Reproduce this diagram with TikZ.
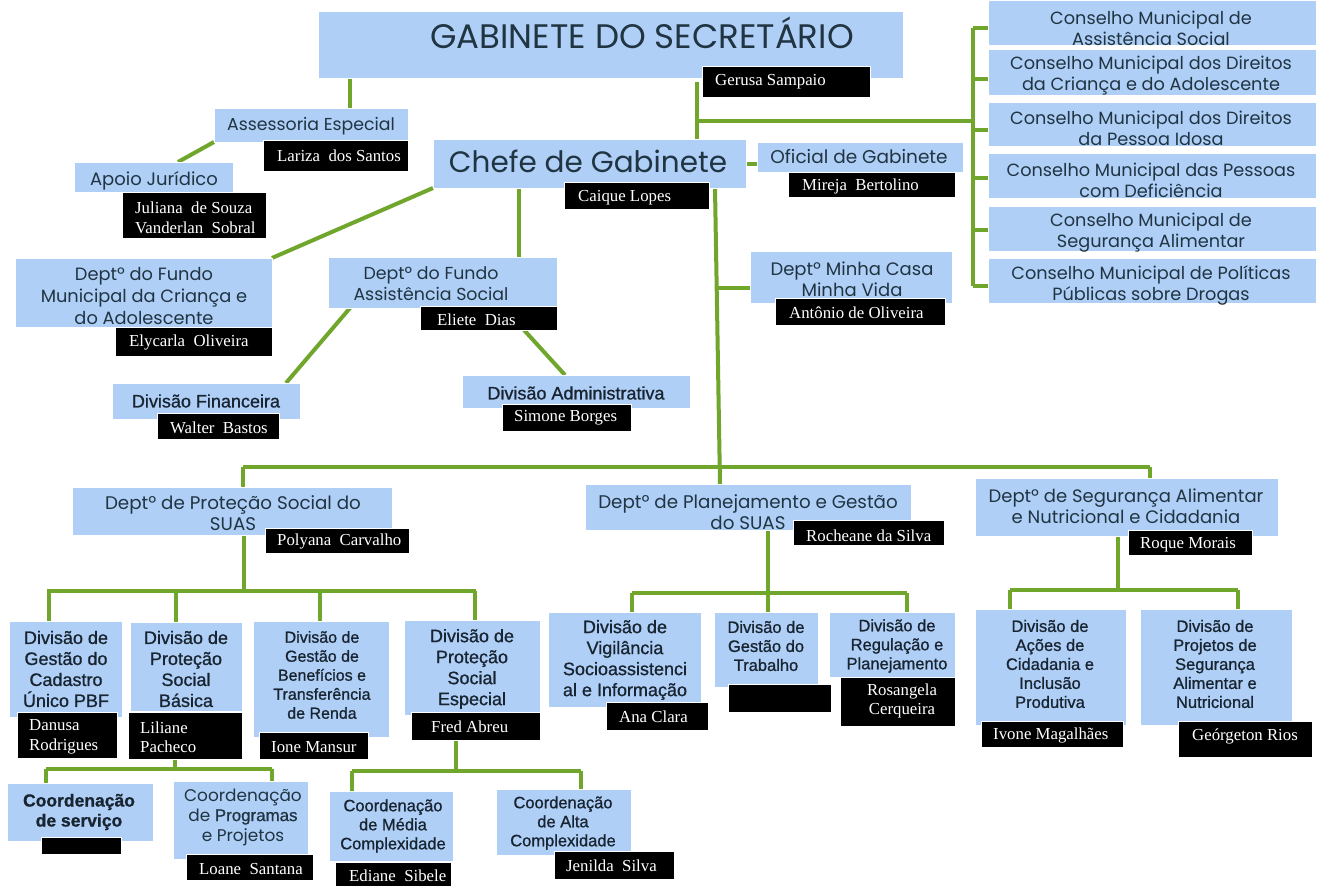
\documentclass[tikz,border=0pt]{standalone}
\usepackage{fontspec}
\usetikzlibrary{backgrounds}
\newfontfamily\gothic{Poppins}
\newfontfamily\arl[FakeBold=0.9]{Liberation Sans}
\newfontfamily\tnr{Liberation Serif}
\definecolor{lblue}{RGB}{175,207,247}
\definecolor{lgreen}{RGB}{112,166,44}
\definecolor{dtext}{RGB}{32,52,66}
\definecolor{atext}{RGB}{24,36,48}
\newcommand\fs[2]{\fontsize{#1}{#2}\selectfont}
\newcommand\rb[6]{\node[#2,minimum width={#5-#3},minimum height={#6-#4}] (#1) at ({(#3+#5)/2},{(#4+#6)/2}) {};}
\tikzset{
  conn/.style={draw=lgreen, line width=4pt},
  bbox/.style={fill=lblue, draw=white, line width=0.6pt, inner sep=0pt, outer sep=0pt},
  kbox/.style={fill=black, draw=white, line width=1pt, inner sep=0pt, outer sep=0pt},
  gt/.style={text=dtext, align=center, inner sep=0pt},
  ax/.style={text=atext, align=center, inner sep=0pt},
  nm/.style={text=white, anchor=west, align=left, inner sep=0pt, font=\tnr\fs{16.8}{19.5}},
}
\begin{document}
\begin{tikzpicture}[x=1pt,y=-1pt]
\useasboundingbox (0,0) rectangle (1318,886);
\begin{scope}[on background layer]
\fill[white] (0,0) rectangle (1318,886);
\end{scope}

% ---------- blue boxes ----------
\rb{gab}{bbox}{318}{11}{903}{78}
\rb{asse}{bbox}{214}{108}{408}{142}
\rb{apoio}{bbox}{74}{162}{233}{192}
\rb{chefe}{bbox}{433}{139}{746}{188}
\rb{ofic}{bbox}{757}{142}{963}{172}
\rb{c1}{bbox}{988}{0}{1316}{45}
\rb{c2}{bbox}{988}{49}{1316}{95}
\rb{c3}{bbox}{988}{102}{1316}{146}
\rb{c4}{bbox}{988}{153}{1316}{198}
\rb{c5}{bbox}{988}{206}{1316}{251}
\rb{c6}{bbox}{988}{258}{1316}{303}
\rb{fmca}{bbox}{15}{258}{272}{327}
\rb{fas}{bbox}{328}{257}{557}{308}
\rb{dfin}{bbox}{112}{383}{300}{419}
\rb{dadm}{bbox}{462}{375}{690}{408}
\rb{mcmv}{bbox}{750}{251}{952}{303}
\rb{dps}{bbox}{72}{487}{392}{535}
\rb{dpg}{bbox}{585}{484}{911}{530}
\rb{dsa}{bbox}{975}{478}{1278}{536}
\rb{dcad}{bbox}{9}{621}{122}{717}
\rb{dpsb}{bbox}{130}{622}{242}{711}
\rb{dgb}{bbox}{253}{621}{389}{737}
\rb{dpse}{bbox}{404}{620}{540}{715}
\rb{dvig}{bbox}{548}{612}{701}{707}
\rb{dgt}{bbox}{714}{612}{818}{687}
\rb{drp}{bbox}{829}{612}{955}{677}
\rb{dac}{bbox}{975}{609}{1126}{725}
\rb{dpsan}{bbox}{1140}{609}{1292}{725}
\rb{cserv}{bbox}{7}{783}{153}{841}
\rb{cprog}{bbox}{173}{781}{308}{859}
\rb{cmed}{bbox}{329}{791}{453}{861}
\rb{calta}{bbox}{496}{789}{631}{855}

% ---------- black name boxes ----------
\rb{kger}{kbox}{702}{66}{870}{97}
\rb{klar}{kbox}{263}{140}{408}{171}
\rb{kjul}{kbox}{122}{192}{266}{238}
\rb{kcai}{kbox}{564}{182}{709}{209}
\rb{kmir}{kbox}{788}{172}{955}{197}
\rb{kely}{kbox}{115}{327}{272}{356}
\rb{keli}{kbox}{420}{306}{557}{330}
\rb{kwal}{kbox}{157}{413}{279}{439}
\rb{ksim}{kbox}{502}{404}{631}{431}
\rb{kant}{kbox}{775}{298}{945}{325}
\rb{kpol}{kbox}{265}{528}{409}{553}
\rb{kroc}{kbox}{793}{520}{944}{545}
\rb{kroq}{kbox}{1128}{530}{1252}{555}
\rb{kdan}{kbox}{17}{712}{117}{758}
\rb{klil}{kbox}{128}{712}{242}{759}
\rb{kion}{kbox}{259}{732}{368}{759}
\rb{kfre}{kbox}{411}{712}{540}{740}
\rb{kana}{kbox}{606}{702}{708}{730}
\rb{kgt}{kbox}{728}{684}{831}{712}
\rb{kros}{kbox}{840}{677}{955}{726}
\rb{kivo}{kbox}{981}{721}{1123}{747}
\rb{kgeo}{kbox}{1178}{721}{1312}{757}
\rb{kcs}{kbox}{41}{837}{121}{854}
\rb{kloa}{kbox}{186}{854}{313}{880}
\rb{kedi}{kbox}{335}{862}{451}{886}
\rb{kjen}{kbox}{554}{851}{674}{879}

% ---------- connectors ----------
\coordinate (hj) at (697,121);
\coordinate (br) at (973,121);
\coordinate (brt) at (973,28);
\coordinate (brb) at (973,286);
\coordinate (trl) at (243,467);
\coordinate (trr) at (1150,467);
\coordinate (hps) at (244,591);
\coordinate (hpg) at (768,593);
\coordinate (hsa) at (1118,590);
\coordinate (hli) at (175,769);
\coordinate (hfr) at (456,771);
\begin{scope}[on background layer]
\draw[conn] (350,0 |- gab.south) -- (350,0 |- asse.north);
\draw[conn] (asse.south west) -- (178,0 |- apoio.north);
\draw[conn] (697,0 |- kger.west) -- (697,0 |- chefe.north);
\draw[conn] (hj) -- (br);
\draw[conn] (brt) -- (brb);
\draw[conn] (973,28) -- (c1.west |- 0,28);
\draw[conn] (973,79) -- (c2.west |- 0,79);
\draw[conn] (973,130) -- (c3.west |- 0,130);
\draw[conn] (973,178) -- (c4.west |- 0,178);
\draw[conn] (973,230) -- (c5.west |- 0,230);
\draw[conn] (973,286) -- (c6.west |- 0,286);
\draw[conn] (chefe.east |- 0,164) -- (ofic.west |- 0,164);
\draw[conn] (chefe.south west) -- (fmca.north east);
\draw[conn] (519,0 |- chefe.south) -- (519,0 |- fas.north);
\draw[conn] (715,0 |- chefe.south) -- (720,0 |- dpg.north);
\draw[conn] (718,288) -- (mcmv.west |- 0,288);
\draw[conn] (350,0 |- fas.south) -- (286,0 |- dfin.north);
\draw[conn] (524,0 |- keli.south) -- (565,0 |- dadm.north);
\draw[conn] (trl) -- (trr);
\draw[conn] (trl) -- (243,0 |- dps.north);
\draw[conn] (trr) -- (1150,0 |- dsa.north);
% Dept Protecao Social
\draw[conn] (244,0 |- dps.south) -- (hps);
\draw[conn] (47,591) -- (476,591);
\draw[conn] (49,591) -- (49,0 |- dcad.north);
\draw[conn] (176,591) -- (176,0 |- dpsb.north);
\draw[conn] (320,591) -- (320,0 |- dgb.north);
\draw[conn] (475,591) -- (475,0 |- dpse.north);
% Dept Planejamento
\draw[conn] (768,0 |- dpg.south) -- (hpg);
\draw[conn] (632,593) -- (907,593);
\draw[conn] (632,593) -- (632,0 |- dvig.north);
\draw[conn] (768,593) -- (768,0 |- dgt.north);
\draw[conn] (907,593) -- (907,0 |- drp.north);
% Dept Seguranca
\draw[conn] (1118,0 |- dsa.south) -- (hsa);
\draw[conn] (1010,590) -- (1238,590);
\draw[conn] (1010,590) -- (1010,0 |- dac.north);
\draw[conn] (1238,590) -- (1238,0 |- dpsan.north);
% Coordenacoes
\draw[conn] (175,0 |- klil.south) -- (hli);
\draw[conn] (46,769) -- (272,769);
\draw[conn] (46,769) -- (46,0 |- cserv.north);
\draw[conn] (272,769) -- (272,0 |- cprog.north);
\draw[conn] (456,0 |- kfre.south) -- (hfr);
\draw[conn] (352,771) -- (581,771);
\draw[conn] (352,771) -- (352,0 |- cmed.north);
\draw[conn] (581,771) -- (581,0 |- calta.north);
\end{scope}

% ---------- gothic texts ----------
\node[gt, font=\gothic\fs{34}{40}] (tgab) at (642,33) {GABINETE DO SECRETÁRIO};
\node[gt, font=\gothic\fs{29.5}{34}] (tchefe) at (588,161) {Chefe de Gabinete};
\node[gt, font=\gothic\fs{17.3}{21}] (tasse) at (311,126) {Assessoria Especial};
\node[gt, font=\gothic\fs{18}{21}] (tapoio) at (154,181) {Apoio Jurídico};
\node[gt, font=\gothic\fs{18.5}{21}] (tofic) at (859,157) {Oficial de Gabinete};
\node[gt, font=\gothic\fs{17.7}{21}] (tc1) at (1151,28) {Conselho Municipal de\\Assistência Social};
\node[gt, font=\gothic\fs{17.7}{21}] (tc2) at (1151,76) {Conselho Municipal dos Direitos\\da Criança e do Adolescente};
\node[gt, font=\gothic\fs{17.7}{21}] (tc3) at (1151,128) {Conselho Municipal dos Direitos\\da Pessoa Idosa};
\node[gt, font=\gothic\fs{17.7}{21}] (tc4) at (1151,180) {Conselho Municipal das Pessoas\\com Deficiência};
\node[gt, font=\gothic\fs{17.7}{21}] (tc5) at (1151,233) {Conselho Municipal de\\Segurança Alimentar};
\node[gt, font=\gothic\fs{17.7}{21}] (tc6) at (1151,285) {Conselho Municipal de Políticas\\Públicas sobre Drogas};
\node[gt, font=\gothic\fs{17.8}{22}] (tfmca) at (144,296) {Deptº do Fundo\\Municipal da Criança e\\do Adolescente};
\node[gt, font=\gothic\fs{17.4}{21}] (tfas) at (431,284) {Deptº do Fundo\\Assistência Social};
\node[gt, font=\gothic\fs{18}{21}] (tmcmv) at (852,279) {Deptº Minha Casa\\Minha Vida};
\node[gt, font=\gothic\fs{18.3}{21}] (tdps) at (233,513) {Deptº de Proteção Social do\\SUAS};
\node[gt, font=\gothic\fs{18.3}{21}] (tdpg) at (748,512) {Deptº de Planejamento e Gestão\\do SUAS};
\node[gt, font=\gothic\fs{18}{21}] (tdsa) at (1126,506) {Deptº de Segurança Alimentar\\e Nutricional e Cidadania};

% ---------- arial texts ----------
\node[ax, font=\arl\fs{18}{21}] (tdfin) at (206,401) {Divisão Financeira};
\node[ax, font=\arl\fs{18}{21}] (tdadm) at (576,393) {Divisão Administrativa};
\node[ax, font=\arl\fs{18}{21}] (tdcad) at (66,669) {Divisão de\\Gestão do\\Cadastro\\Único PBF};
\node[ax, font=\arl\fs{18}{21}] (tdpsb) at (186,669) {Divisão de\\Proteção\\Social\\Básica};
\node[ax, font=\arl\fs{16}{19}] (tdgb) at (322,675) {Divisão de\\Gestão de\\Benefícios e\\Transferência\\de Renda};
\node[ax, font=\arl\fs{18}{21}] (tdpse) at (472,669) {Divisão de\\Proteção\\Social\\Especial};
\node[ax, font=\arl\fs{18}{21}] (tdvig) at (625,660) {Divisão de\\Vigilância\\Socioassistenci\\al e Informação};
\node[ax, font=\arl\fs{16.5}{19}] (tdgt) at (766,646) {Divisão de\\Gestão do\\Trabalho};
\node[ax, font=\arl\fs{16.5}{19}] (tdrp) at (897,646) {Divisão de\\Regulação e\\Planejamento};
\node[ax, font=\arl\fs{16.5}{19}] (tdac) at (1050,664) {Divisão de\\Ações de\\Cidadania e\\Inclusão\\Produtiva};
\node[ax, font=\arl\fs{16.5}{19}] (tdpsan) at (1215,664) {Divisão de\\Projetos de\\Segurança\\Alimentar e\\Nutricional};
\node[ax, font=\arl\bfseries\fs{17.5}{20}] (tcserv) at (79,812) {Coordenação\\de serviço};
\node[gt, font=\gothic\fs{16.9}{20}] (tcprog) at (243,817) {Coordenação\\de {\arl Programas}\\e Projetos};
\node[ax, font=\arl\fs{16.5}{19}] (tcmed) at (393,826) {Coordenação\\de Média\\Complexidade};
\node[ax, font=\arl\fs{16.5}{19}] (tcalta) at (563,823) {Coordenação\\de Alta\\Complexidade};

% ---------- names ----------
\node[nm] (nger) at (715,82) {Gerusa Sampaio};
\node[nm] (nlar) at (277,156) {Lariza~ dos Santos};
\node[nm] (njul) at (135,218) {Juliana~ de Souza\\Vanderlan~ Sobral};
\node[nm] (ncai) at (578,198) {Caique Lopes};
\node[nm] (nmir) at (802,186) {Mireja~ Bertolino};
\node[nm] (nely) at (129,342) {Elycarla~ Oliveira};
\node[nm] (neli) at (437,320) {Eliete~ Dias};
\node[nm] (nwal) at (170,428) {Walter~ Bastos};
\node[nm] (nsim) at (514,418) {Simone Borges};
\node[nm] (nant) at (789,313) {Antônio de Oliveira};
\node[nm] (npol) at (277,541) {Polyana~ Carvalho};
\node[nm] (nroc) at (806,536) {Rocheane da Silva};
\node[nm] (nroq) at (1140,545) {Roque Morais};
\node[nm] (ndan) at (29,737) {Danusa\\Rodrigues};
\node[nm] (nlil) at (140,737) {Liliane\\Pacheco};
\node[nm] (nion) at (271,747) {Ione Mansur};
\node[nm] (nfre) at (431,727) {Fred Abreu};
\node[nm] (nana) at (619,717) {Ana Clara};
\node[nm, anchor=center, align=center] (nros) at (902,701) {Rosangela\\Cerqueira};
\node[nm] (nivo) at (993,735) {Ivone Magalhães};
\node[nm] (ngeo) at (1192,736) {Geórgeton Rios};
\node[nm] (nloa) at (199,869) {Loane~ Santana};
\node[nm] (nedi) at (349,876) {Ediane~ Sibele};
\node[nm] (njen) at (566,866) {Jenilda~ Silva};
\end{tikzpicture}
\end{document}
